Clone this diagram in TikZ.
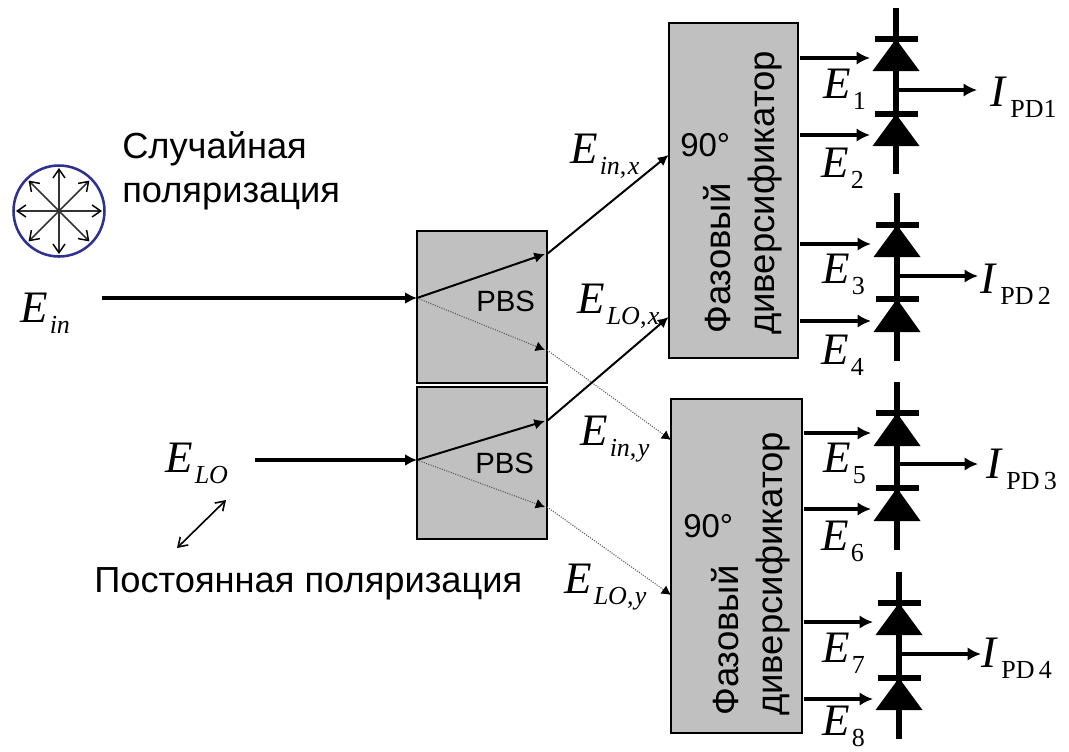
\documentclass[tikz,border=0pt]{standalone}
\usepackage{fontspec}
\setmainfont{Liberation Sans}
\newfontfamily\timesf{Liberation Serif}
\usetikzlibrary{arrows.meta}
\definecolor{boxgray}{HTML}{C0C0C0}
\definecolor{ringblue}{HTML}{2E3192}
\newcommand{\symb}[3][1.5pt]{{\timesf\fontsize{33.75pt}{36pt}\selectfont\itshape #2}\kern#1\raisebox{-8.25pt}{\timesf\fontsize{19.5pt}{22pt}\selectfont #3}}
\newcommand{\itsub}[1]{\textit{#1}}
\tikzset{
  gbox/.style={draw=black,line width=1.1pt,fill=boxgray,inner sep=0pt,outer sep=0pt},
  label text/.style={font=\fontsize{27.2pt}{31pt}\selectfont,inner sep=0pt,anchor=base west,align=left},
  deg text/.style={font=\fontsize{24.75pt}{29pt}\selectfont,inner sep=0pt,anchor=base west},
  pbs text/.style={font=\fontsize{22pt}{26pt}\selectfont,inner sep=0pt,anchor=base west},
  side text/.style={font=\fontsize{27.4pt}{31pt}\selectfont,inner sep=0pt,anchor=base west,rotate=90},
  sym/.style={inner sep=0pt,anchor=base west},
  main ray/.style={line width=3pt,-{Latex[length=9pt,width=9pt]}},
  bright ray/.style={line width=1.5pt,-{Latex[length=8pt,width=8pt]}},
  fine ray/.style={line width=0.8pt,densely dotted,draw=black!65,-{Latex[length=7pt,width=7.5pt,fill=black,black]}},
  signal/.style={line width=2.7pt,-{Latex[length=10pt,width=10pt]}},
  spoke/.style={line width=1.1pt,draw=black!80,-{Straight Barb[length=6.5pt,width=9pt,black]}},
  pd bar/.style={line width=5pt},
}
\begin{document}
\begin{tikzpicture}[x=0.75pt,y=-0.75pt]
\useasboundingbox (0,0) rectangle (1069,751);
% boxes
\node[gbox,minimum width=130*.75pt,minimum height=152*.75pt] (pbsA) at (482,307) {};
\node[gbox,minimum width=130*.75pt,minimum height=152*.75pt] (pbsB) at (482,463) {};
\node[gbox,minimum width=129*.75pt,minimum height=335*.75pt] (divA) at (733.5,190.5) {};
\node[gbox,minimum width=131*.75pt,minimum height=334*.75pt] (divB) at (736.5,566) {};
\node[pbs text] (pbsAt) at (476,311) {PBS};
\node[pbs text] (pbsBt) at (475,473) {PBS};
\node[deg text] (ninetyA) at (680,156) {90°};
\node[deg text] (ninetyB) at (683,537) {90°};
\node[side text] (faA) at (730,334) {Фазовый};
\node[side text] (diA) at (774,335) {диверсификатор};
\node[side text] (faB) at (738,716) {Фазовый};
\node[side text] (diB) at (782,716) {диверсификатор};
% texts
\node[label text] (rand1) at (122,158) {Случайная};
\node[label text] (rand2) at (122,202) {поляризация};
\node[label text] (const) at (94,592) {Постоянная поляризация};
% polarisation ring
\coordinate (ringc) at (59,211);
\foreach \a in {0,45,...,315}{
  \coordinate (sp\a) at ([shift={(\a:43)}]ringc);
  \draw[spoke] (ringc) -- (sp\a);
}
\node[circle,draw=ringblue,line width=1.9pt,minimum size=91*.75pt,inner sep=0pt] (ring) at (ringc) {};
% symbols
\node[sym] (Ein) at (20,322) {\symb{E}{\itsub{in}}};
\node[sym] (ELO) at (165,472) {\symb{E}{\itsub{LO}}};
\node[sym] (Einx) at (570,163) {\symb{E}{\itsub{in},\kern1pt\itsub{x}}};
\node[sym] (ELOx) at (577,313) {\symb{E}{\itsub{LO},\kern1pt\itsub{x}}};
\node[sym] (Einy) at (580,445) {\symb{E}{\itsub{in},\kern1pt\itsub{y}}};
\node[sym] (ELOy) at (564,593) {\symb{E}{\itsub{LO},\kern1pt\itsub{y}}};
\foreach \n/\x/\y in {1/823/98,2/821/177,3/822/283,4/821/364,5/823/472,6/821/550,7/822/662,8/822/735}{
  \node[sym] (E\n) at (\x,\y) {\symb{E}{\n}};
}
\node[sym] (IA) at (990,106) {\symb[3.8pt]{I}{PD1}};
\node[sym] (IB) at (980,293) {\symb[3.8pt]{I}{PD\,2}};
\node[sym] (IC) at (986,478) {\symb[3.8pt]{I}{PD\,3}};
\node[sym] (ID) at (981,667) {\symb[3.8pt]{I}{PD\,4}};
% optical paths
\coordinate (srcA) at (102,298);
\coordinate (srcB) at (255,460);
\coordinate (splitA) at (pbsA.west |- srcA);
\coordinate (splitB) at (pbsB.west |- srcB);
\coordinate (aOutX) at (545,254);
\coordinate (aOutY) at (545,350);
\coordinate (bOutX) at (545,421);
\coordinate (bOutY) at (545,507);
\coordinate (aFromX) at (pbsA.east |- aOutX);
\coordinate (aFromY) at (pbsA.east |- aOutY);
\coordinate (bFromX) at (pbsB.east |- bOutX);
\coordinate (bFromY) at (pbsB.east |- bOutY);
\coordinate (divAin) at (668.5,155);
\coordinate (divAlo) at (668.5,317);
\coordinate (divBin) at (671,440);
\coordinate (divBlo) at (671,595);
\draw[fine ray] (splitA) -- (aOutY);
\draw[fine ray] (splitB) -- (bOutY);
\draw[fine ray] (aFromY) -- (divBin);
\draw[fine ray] (bFromY) -- (divBlo);
\draw[main ray] (srcA) -- (splitA);
\draw[main ray] (srcB) -- (splitB);
\draw[bright ray] (splitA) -- (aOutX);
\draw[bright ray] (splitB) -- (bOutX);
\draw[bright ray] (aFromX) -- (divAin);
\draw[bright ray] (bFromX) -- (divAlo);
% LO polarisation arrow
\coordinate (polA) at (177,548);
\coordinate (polB) at (226,500);
\draw[line width=1.2pt,{Straight Barb[length=6.5pt,width=8.5pt]}-{Straight Barb[length=6.5pt,width=8.5pt]}] (polA) -- (polB);
% photodiodes
\foreach \i/\bx/\x/\top/\bara/\basea/\barb/\baseb/\bot/\outy/\tip/\ya/\yb/\itip/\lw in {
  1/divA/896/8/39/71/114/146/174/90/977/58/135/870/5,
  2/divA/897/193/225/257/299/332/361/276/978/244/321/871/5,
  3/divB/897/382/413/446/488/521/550/464/978/433/509/871/4,
  4/divB/899/572/603/635/678/710/739/654/981/622/699/873/4}{
  \draw[line width=\lw pt] (\x,\top) -- (\x,\bot);
  \draw[pd bar] (\x-21.5,\bara) -- (\x+21.5,\bara);
  \draw[pd bar] (\x-21.5,\barb) -- (\x+21.5,\barb);
  \fill[black] (\x,\bara) -- (\x+23.5,\basea) -- (\x-23.5,\basea) -- cycle;
  \fill[black] (\x,\barb) -- (\x+23.5,\baseb) -- (\x-23.5,\baseb) -- cycle;
  \coordinate (pdj\i) at (\x,\outy);
  \coordinate (pdo\i) at (\tip,\outy);
  \coordinate (pda\i) at (\itip,\ya);
  \coordinate (pdb\i) at (\itip,\yb);
  \draw[signal] (pdj\i) -- (pdo\i);
  \draw[signal,shorten <=1.5pt] (\bx.east |- pda\i) -- (pda\i);
  \draw[signal,shorten <=1.5pt] (\bx.east |- pdb\i) -- (pdb\i);
}
\end{tikzpicture}
\end{document}
